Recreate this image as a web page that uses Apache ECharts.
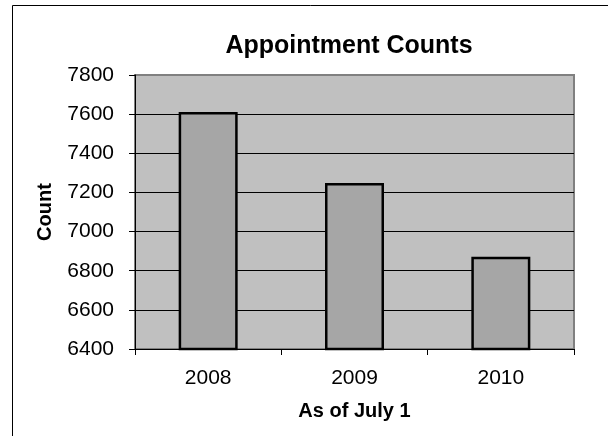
<!DOCTYPE html>
<html>
<head>
<meta charset="utf-8">
<script src="https://cdn.jsdelivr.net/npm/echarts@6/dist/echarts.min.js"></script>
<style>
  html, body { margin: 0; padding: 0; background: #ffffff; }
  #chart { width: 608px; height: 436px; }
</style>
</head>
<body>
<div id="chart"></div>
<script>
// Appointment counts by year (as of July 1)
const years = ['2008', '2009', '2010'];
const counts = [7611, 7248, 6871];
const yMin = 6400;
const yMax = 7800;
const yStep = 200;

const FONT = '"Liberation Sans", Arial, sans-serif';

const chart = echarts.init(document.getElementById('chart'), null, { renderer: 'canvas' });

chart.setOption({
  backgroundColor: '#ffffff',
  animation: false,
  title: {
    text: 'Appointment Counts',
    left: 344,
    top: 29,
    textAlign: 'center',
    textStyle: { fontFamily: FONT, fontSize: 25, fontWeight: 'bold', color: '#000000' }
  },
  graphic: [{
    type: 'rect',
    silent: true,
    shape: { x: 12.5, y: 5.5, width: 800, height: 800 },
    style: { fill: 'none', stroke: '#000000', lineWidth: 1 },
    z: -10
  }],
  grid: {
    left: 135, right: 34, top: 75, bottom: 87,
    show: true,
    backgroundColor: '#C0C0C0',
    borderColor: '#808080',
    borderWidth: 2
  },
  xAxis: {
    type: 'category',
    data: years,
    name: 'As of July 1',
    nameLocation: 'middle',
    nameGap: 52,
    nameTextStyle: { fontFamily: FONT, fontSize: 20, fontWeight: 'bold', color: '#000000' },
    axisLine: { show: true, lineStyle: { color: '#000000', width: 1 } },
    axisTick: { show: true, length: 6, lineStyle: { color: '#000000' } },
    axisLabel: { fontFamily: FONT, fontSize: 21, color: '#000000', margin: 19 },
    splitLine: { show: false }
  },
  yAxis: {
    type: 'value',
    min: yMin,
    max: yMax,
    interval: yStep,
    name: 'Count',
    nameLocation: 'middle',
    nameRotate: 90,
    nameGap: 80,
    nameTextStyle: { fontFamily: FONT, fontSize: 20, fontWeight: 'bold', color: '#000000' },
    axisLine: { show: true, lineStyle: { color: '#000000', width: 1 } },
    axisTick: { show: true, length: 6, lineStyle: { color: '#000000' } },
    axisLabel: {
      fontFamily: FONT, fontSize: 21, color: '#000000', margin: 21,
      formatter: (v) => String(v)
    },
    splitLine: { show: true, showMinLine: false, showMaxLine: false, lineStyle: { color: '#000000', width: 1 } }
  },
  series: [{
    type: 'bar',
    data: counts,
    barWidth: 59,
    itemStyle: { color: '#A6A6A6', borderColor: '#000000', borderWidth: 2.5 }
  }]
});
</script>
</body>
</html>
